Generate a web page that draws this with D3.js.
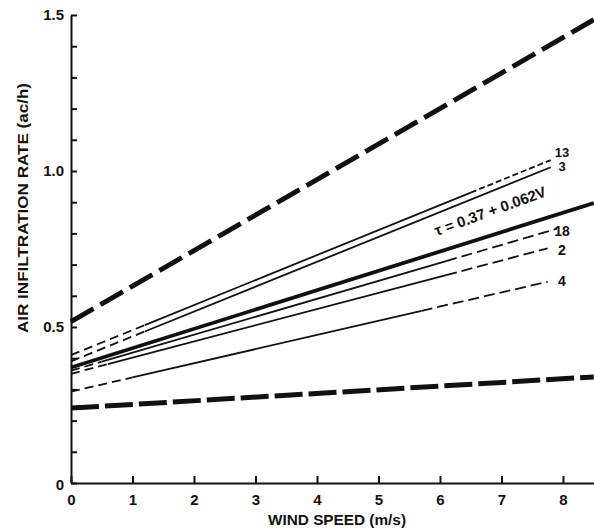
<!DOCTYPE html>
<html>
<head>
<meta charset="utf-8">
<script src="https://cdn.jsdelivr.net/npm/d3@7"></script>
<style>
  body { margin: 0; background: #fff; }
  svg text { font-family: "Liberation Sans", Arial, sans-serif; font-weight: bold; fill: #111; }
</style>
</head>
<body>
<div id="viz"></div>
<script>
// values
let windTicks = [0, 1, 2, 3, 4, 5, 6, 7, 8]
let rateTicks = [0, 0.5, 1.0, 1.5]

// individual house lines
let houseIds = ['13', '3', '18', '2', '4']
let houseStart = [0.41, 0.39, 0.36, 0.35, 0.293]
let houseEnd = [1.035, 1.012, 0.815, 0.752, 0.645]
let houseEndV = [7.8, 7.8, 7.9, 7.75, 7.75]
let houseDashUntil = [1.2, 1.2, 0.5, 0.6, 1.0]
let houseDashFrom = [6.5, 7.8, 6.1, 6.1, 5.7]

// envelope lines (upper, lower)
let envStart = [0.517, 0.24]
let envEnd = [1.485, 0.34]
let envEndV = 8.5

// regression
let regIntercept = 0.37
let regSlope = 0.062

let svg = d3.select('#viz')
  .append('svg')
  .attr('width', 594)
  .attr('height', 528)

let x = d3.scaleLinear().domain([0, 8.5]).range([71, 71 + 8.5 * 61.5])
let y = d3.scaleLinear().domain([0, 1.5]).range([483, 15])

// y axis, ticks point inward
let yAxis = d3.axisLeft(y)
  .tickValues(d3.range(0, 15.5, 1).map(d => d / 10))
  .tickSizeInner(-6)
  .tickSizeOuter(0)
  .tickPadding(7)
  .tickFormat(d => {
    let r = Math.round(d * 10)
    if (r === 0) return '0'
    return rateTicks.includes(r / 10) ? d3.format('.1f')(d) : ''
  })

let gy = svg.append('g').attr('transform', 'translate(71,0)').call(yAxis)
gy.selectAll('path, line').attr('stroke', '#111').attr('stroke-width', 2)
gy.selectAll('text').style('font-size', '15px')
gy.selectAll('.tick text').filter(d => d === 0).attr('dy', '0.45em')

let xAxis = d3.axisBottom(x)
  .tickValues(windTicks)
  .tickSizeInner(-7)
  .tickSizeOuter(0)
  .tickPadding(11)
  .tickFormat(d3.format('d'))

let gx = svg.append('g').attr('transform', 'translate(0,483)').call(xAxis)
gx.selectAll('path, line').attr('stroke', '#111').attr('stroke-width', 2)
gx.selectAll('text').style('font-size', '15px')

// axis titles
svg.append('text')
  .attr('x', 337)
  .attr('y', 525)
  .attr('text-anchor', 'middle')
  .attr('textLength', 138)
  .attr('lengthAdjust', 'spacingAndGlyphs')
  .style('font-size', '14px')
  .text('WIND SPEED (m/s)')

svg.append('text')
  .attr('transform', 'translate(28,208) rotate(-90)')
  .attr('text-anchor', 'middle')
  .attr('textLength', 250)
  .attr('lengthAdjust', 'spacingAndGlyphs')
  .style('font-size', '14px')
  .text('AIR INFILTRATION RATE (ac/h)')

let lineGen = d3.line().x(d => x(d[0])).y(d => y(d[1]))

// envelope lines, heavy long dashes
envStart.forEach((v0, i) => {
  svg.append('path')
    .attr('d', lineGen([[0, v0], [envEndV, envEnd[i]]]))
    .attr('fill', 'none')
    .attr('stroke', '#111')
    .attr('stroke-width', 5)
    .attr('stroke-dasharray', i === 0 ? '26,8' : '28,6')
})

// house lines: dashed start, solid middle, dashed end
houseIds.forEach((id, i) => {
  let v0 = houseStart[i]
  let vEnd = houseEndV[i]
  let at = v => v0 + (houseEnd[i] - v0) * v / vEnd
  let a = houseDashUntil[i]
  let b = houseDashFrom[i]

  svg.append('path')
    .attr('d', lineGen([[0, v0], [a, at(a)]]))
    .attr('fill', 'none').attr('stroke', '#111').attr('stroke-width', 1.8)
    .attr('stroke-dasharray', '9,5')
  svg.append('path')
    .attr('d', lineGen([[a, at(a)], [b, at(b)]]))
    .attr('fill', 'none').attr('stroke', '#111').attr('stroke-width', 1.8)
  if (b < vEnd) {
    svg.append('path')
      .attr('d', lineGen([[b, at(b)], [vEnd, houseEnd[i]]]))
      .attr('fill', 'none').attr('stroke', '#111').attr('stroke-width', 1.8)
      .attr('stroke-dasharray', id === '13' ? '6,3' : '11,5')
  }
})

// labels for house lines
let labelY = [152, 166, 231, 250, 281]
houseIds.forEach((id, i) => {
  svg.append('text')
    .attr('x', 562)
    .attr('y', labelY[i])
    .attr('dy', '0.35em')
    .attr('text-anchor', 'middle')
    .style('font-size', i < 2 ? '13px' : '14px')
    .text(id)
})

// regression line
svg.append('path')
  .attr('d', lineGen([[0, regIntercept], [8.5, regIntercept + regSlope * 8.5]]))
  .attr('fill', 'none')
  .attr('stroke', '#111')
  .attr('stroke-width', 3.8)

svg.append('text')
  .attr('transform', 'translate(492,216) rotate(-20)')
  .attr('text-anchor', 'middle')
  .style('font-size', '15px')
  .text('τ = 0.37 + 0.062V')
</script>
</body>
</html>
